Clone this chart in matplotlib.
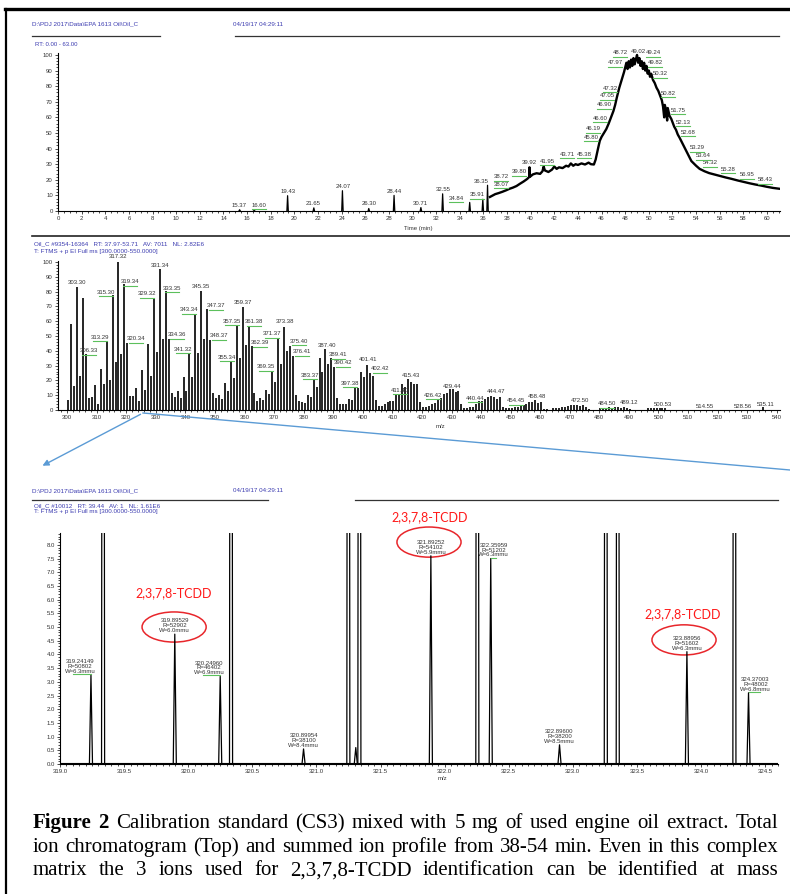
import matplotlib
matplotlib.use("Agg")
import matplotlib.pyplot as plt
from matplotlib.lines import Line2D
from matplotlib.patches import Ellipse, FancyArrowPatch
from matplotlib.ticker import MultipleLocator, FormatStrFormatter
from matplotlib.transforms import IdentityTransform

W, H = 790, 894
plt.rcParams['font.family'] = ['Liberation Sans', 'DejaVu Sans']

# ---------------- data: total ion chromatogram (top) ----------------
tic_time = [36.55, 36.8, 37.0, 37.3, 37.6, 37.9, 38.2, 38.5, 38.8, 39.1, 39.4, 39.7,
            39.88, 39.9, 39.95, 40.2, 40.5, 40.8, 41.0, 41.1, 41.2, 41.5, 41.8, 42.0,
            42.2, 42.4, 42.7, 43.0, 43.2, 43.4, 43.6, 43.8, 44.0, 44.3, 44.6, 44.9,
            45.1, 45.35, 45.5, 45.7, 45.85, 46.0, 46.2, 46.4, 46.6, 46.8, 47.0, 47.15,
            47.3, 47.5, 47.7, 47.9, 48.0, 48.1, 48.2, 48.3, 48.4, 48.5, 48.6, 48.7,
            48.8, 48.9, 49.0, 49.1, 49.2, 49.3, 49.4, 49.5, 49.6, 49.7, 49.8, 49.9,
            50.0, 50.1, 50.2, 50.35, 50.5, 50.65, 50.8, 50.95, 51.1, 51.2, 51.3, 51.35,
            51.45, 51.55, 51.6, 51.75, 51.9, 52.0, 52.15, 52.3, 52.45, 52.6, 52.8, 53.0,
            53.2, 53.4, 53.6, 53.8, 54.0, 54.3, 54.7, 55.1, 55.5, 56.0, 56.5, 57.0,
            57.5, 58.0, 58.5, 59.0, 59.5, 60.0, 60.5, 61.0, 61.5, 62.0, 63.0]
tic_int = [9.0, 10.0, 10.8, 11.5, 12.3, 13.2, 14.2, 15.0, 16.0, 17.5, 18.9, 20.5,
           21.8, 28.0, 22.0, 23.5, 24.2, 23.8, 25.5, 28.5, 26.0, 25.0, 26.5, 28.5,
           27.0, 28.0, 27.5, 29.0, 28.5, 30.5, 29.0, 30.0, 29.5, 30.5, 29.8, 31.0,
           30.0, 29.8, 33.0, 40.0, 45.0, 47.5, 50.0, 52.5, 56.0, 60.0, 64.0, 68.0,
           73.0, 79.0, 84.0, 89.0, 92.0, 95.0, 91.0, 96.0, 92.0, 97.0, 93.0, 98.0,
           94.0, 97.0, 100.0, 95.0, 98.0, 93.0, 96.0, 91.0, 95.0, 90.0, 93.0, 88.0,
           90.0, 86.0, 88.0, 84.0, 82.0, 79.0, 77.0, 74.0, 71.0, 67.0, 60.0, 68.0,
           65.0, 58.0, 66.0, 61.0, 59.0, 57.0, 54.0, 52.0, 49.0, 47.0, 44.0, 41.0,
           38.0, 35.0, 32.0, 30.5, 29.0, 27.0, 25.5, 24.3, 23.5, 22.5, 21.5, 20.6,
           19.6, 18.7, 17.8, 17.0, 16.3, 15.5, 14.8, 14.3, 13.8, 13.5, 13.0]
spike_rt = [15.37, 16.60, 19.43, 21.65, 24.07, 26.30, 28.44, 30.71, 32.55, 34.84, 35.95, 36.35]
spike_int = [0.8, 0.4, 9.8, 2.0, 13.0, 1.6, 10.0, 2.2, 11.0, 5.5, 7.5, 16.5]

# label text, x (min), y (%), green leader
tic_labels = [
    ("15.37", 15.32, 3.8, False), ("16.60", 17.01, 3.8, True), ("19.43", 19.46, 12.2, False),
    ("21.65", 21.58, 4.5, False), ("24.07", 24.12, 15.4, False), ("26.30", 26.32, 4.5, False),
    ("28.44", 28.43, 12.8, False), ("30.71", 30.63, 5.1, False), ("32.55", 32.58, 13.5, False),
    ("34.84", 33.68, 8.3, True), ("35.91", 35.46, 10.3, True), ("36.35", 35.80, 19.2, False),
    ("38.07", 37.49, 17.3, True), ("38.72", 37.49, 21.8, True), ("39.80", 39.01, 25.0, True),
    ("39.92", 39.86, 30.8, False), ("41.95", 41.38, 32.0, True), ("43.71", 43.07, 36.5, True),
    ("45.38", 44.51, 36.5, True), ("45.80", 45.10, 47.4, True), ("46.19", 45.27, 52.6, True),
    ("46.60", 45.87, 59.6, True), ("46.90", 46.20, 68.0, True), ("47.05", 46.46, 73.7, True),
    ("47.32", 46.71, 78.8, True), ("47.97", 47.14, 94.9, True), ("48.72", 47.56, 101.3, True),
    ("49.02", 49.08, 101.9, False), ("49.24", 50.35, 101.3, True), ("49.82", 50.52, 94.9, True),
    ("50.32", 50.94, 87.8, True), ("50.82", 51.62, 75.6, True), ("51.75", 52.47, 64.7, True),
    ("52.13", 52.89, 57.0, True), ("52.68", 53.31, 50.6, True), ("53.29", 54.07, 40.4, True),
    ("53.64", 54.58, 35.3, True), ("54.32", 55.17, 30.8, True), ("55.28", 56.70, 26.9, True),
    ("56.95", 58.30, 23.1, True), ("58.43", 59.83, 19.9, True),
]

# ---------------- data: summed spectrum (middle) ----------------
ms_mass = list(range(300, 491)) + [496, 497, 498, 499, 500, 501, 502, 535]
ms_int = [
    6.8, 58, 16, 83, 23, 75.6, 37.7, 8.4, 8.8, 16.7,            # 300-309
    4, 27.5, 17.4, 46.7, 20, 77.6, 32.5, 100, 38, 85,           # 310-319
    45.6, 9.5, 9.3, 14.7, 6, 27, 13.8, 44.7, 23, 75.6,          # 320-329
    39.5, 95.5, 47.9, 80.6, 48.3, 11.3, 9, 12.9, 8.4, 22.6,     # 330-339
    13, 38.4, 22.6, 64.8, 38.8, 80.6, 48.3, 68.2, 47.6, 11.7,   # 340-349
    7.9, 10.4, 7.4, 18, 12.6, 33, 21.4, 57.6, 34.8, 69.3,       # 350-359
    44, 56.4, 43.3, 11.7, 6.3, 8.1, 6.8, 13.5, 10.8, 26,        # 360-369
    19, 48.5, 31, 56, 40, 43, 36.6, 10, 5.9, 5.4,               # 370-379
    5, 10.4, 8.8, 20.5, 15.6, 35, 25.7, 41.5, 31, 34.8,         # 380-389
    29, 8, 4, 3.8, 4.3, 7.4, 7, 15.8, 14.7, 26,                 # 390-399
    22.6, 30.5, 25.3, 23, 6.8, 2.7, 2.7, 3.8, 5.4, 6,           # 400-409
    6, 10.6, 10.6, 17.3, 15.8, 21.2, 19, 17.3, 17.3, 5.4,       # 410-419
    2.3, 2.3, 3, 4.3, 4.5, 7.7, 8.3, 11, 11.3, 14,              # 420-429
    14, 12, 12.6, 3.8, 1.6, 1.6, 2.3, 2.3, 4, 6,                # 430-439
    5.8, 7.7, 9, 9.5, 9, 7.7, 8.6, 2.3, 1.1, 1.4,               # 440-449
    1.6, 2, 2.3, 2.7, 3.6, 4.3, 5.4, 5.4, 6.8, 4.5,             # 450-459
    5.4, 0.9, 0.4, 0.3, 1.3, 1.3, 1.6, 1.8, 2.3, 2.5,           # 460-469
    3.4, 3.2, 3.6, 3.0, 3.6, 1.8, 0.6, 0.3, 0.3, 0.3,           # 470-479
    1.1, 1.4, 1.6, 1.8, 1.6, 1.8, 2.0, 1.6, 2.3, 1.4,           # 480-489
    0.5,                                                        # 490
    1.1, 1.1, 1.3, 1.1, 1.3, 1.1, 1.1, 1.8,                     # 496-502, 535
]
ms_labels = [
    ("303.30", 303.30, 85.8, False), ("306.33", 307.36, 39.9, True), ("313.29", 311.08, 49.3, True),
    ("315.30", 313.11, 79.7, True), ("317.32", 317.17, 103.4, False), ("319.34", 321.23, 86.5, True),
    ("320.34", 323.26, 48.0, True), ("329.32", 326.98, 78.4, True), ("331.34", 331.38, 97.3, False),
    ("333.35", 335.44, 82.4, True), ("334.36", 337.13, 50.7, True), ("341.32", 339.16, 41.2, True),
    ("343.34", 341.19, 67.6, True), ("345.35", 345.25, 83.1, False), ("347.37", 350.32, 70.3, True),
    ("348.37", 351.34, 50.0, True), ("355.34", 354.04, 35.8, True), ("357.35", 355.74, 60.1, True),
    ("359.37", 359.46, 72.3, False), ("361.38", 363.18, 59.5, True), ("362.39", 365.21, 45.3, True),
    ("369.35", 367.24, 29.1, True), ("371.37", 369.27, 51.4, True), ("373.38", 373.66, 59.5, False),
    ("375.40", 378.40, 46.6, True), ("376.41", 379.42, 39.2, True), ("383.37", 382.12, 23.6, True),
    ("387.40", 387.87, 43.9, False), ("389.41", 391.60, 37.2, True), ("390.42", 393.29, 31.8, True),
    ("397.38", 395.66, 18.2, True), ("401.41", 401.74, 33.8, False), ("402.42", 405.80, 27.7, True),
    ("411.40", 412.57, 13.5, True), ("415.43", 416.29, 23.6, False), ("426.42", 423.73, 10.1, True),
    ("429.44", 430.16, 16.2, False), ("440.44", 437.94, 8.1, True), ("444.47", 445.05, 12.2, False),
    ("454.45", 451.81, 6.1, True), ("458.48", 458.92, 8.8, False), ("472.50", 473.46, 6.1, False),
    ("484.50", 482.59, 4.1, True), ("489.12", 490.04, 5.4, False), ("500.53", 501.54, 3.4, False),
    ("514.55", 515.75, 2.7, False), ("528.56", 528.60, 2.7, False), ("535.11", 536.39, 3.4, False),
]

# ---------------- data: single scan zoom (bottom) ----------------
scan_mz = [319.24149, 319.336, 319.89529, 320.24960, 320.334, 320.89954, 321.249, 321.307,
           321.335, 321.89252, 322.255, 322.35959, 322.89600, 323.257, 323.35, 323.88956,
           324.26, 324.37003]
scan_int = [3.25, 60, 4.74, 3.2, 60, 0.55, 60, 0.6, 60, 7.6, 60, 7.5, 0.7, 60, 60, 4.1, 60, 2.6]
lab_mz = [319.24149, 319.89529, 320.24960, 320.89954, 321.89252, 322.35959, 322.89600,
          323.88956, 324.37003]
lab_int = [3.25, 4.74, 3.2, 0.55, 7.6, 7.5, 0.7, 4.1, 2.6]
lab_res = [50802, 52902, 46402, 38100, 54102, 51202, 38200, 51602, 48002]
lab_width = ["6.3", "6.0", "6.9", "8.4", "5.9", "6.3", "8.5", "6.3", "6.8"]
lab_dx = [-11, 0, -11, 0, 0, 3, 0, 0, 7]
lab_leader = [True, False, True, False, False, True, False, False, True]
# 2,3,7,8-TCDD call-outs: ellipse centre and title position (m/z, intensity)
tcdd_ell = [(319.89, 5.0), (321.878, 8.1), (323.867, 4.53)]
tcdd_txt = [(319.889, 6.24), (321.886, 9.01), (323.86, 5.47)]

caption = [
    "Figure 2 Calibration standard (CS3) mixed with 5 mg of used engine oil extract. Total",
    "ion chromatogram (Top) and summed ion profile from 38-54 min.  Even in this complex",
    "matrix the 3 ions used for 2,3,7,8-TCDD identification can be identified at mass",
]

BLUE = "#3b3bb0"
GREEN = "#5cc05c"
LBL = dict(fontsize=4.3, color="#333333")

fig = plt.figure(figsize=(W / 100, H / 100), dpi=100)


def px_rect(x0, y0, x1, y1):
    return [x0 / W, 1 - y1 / H, (x1 - x0) / W, (y1 - y0) / H]


def fig_line(x0, y0, x1, y1, **kw):
    fig.add_artist(Line2D([x0 / W, x1 / W], [1 - y0 / H, 1 - y1 / H],
                          transform=fig.transFigure, **kw))


def fig_text(x, y, s, **kw):
    fig.text(x / W, 1 - y / H, s, **kw)


def underline(ax, x, y, half=7, dy=4):
    px, py = ax.transData.transform((x, y))
    fig.add_artist(Line2D([px - half, px + half], [py - dy, py - dy], color=GREEN,
                          lw=0.8, transform=IdentityTransform()))


def style_axes(ax):
    for side in ("top", "right"):
        ax.spines[side].set_visible(False)
    for side in ("left", "bottom"):
        ax.spines[side].set_linewidth(0.8)
    ax.tick_params(which="both", direction="out", width=0.5, labelsize=4.3,
                   labelcolor="#333333", pad=1.2)
    ax.tick_params(which="major", length=2.5)
    ax.tick_params(which="minor", length=1.5)
    ax.patch.set_alpha(0)


# frame of the page
fig_line(5, 9, 790, 9, color="black", lw=2.4)
fig_line(6, 9, 6, 894, color="black", lw=1.6)

# ---------- top panel ----------
fig_text(32, 24, r"D:\PDJ 2017\Data\EPA 1613 Oil\Oil_C", fontsize=4.5, color=BLUE, va="center")
fig_text(233, 24, "04/19/17 04:29:11", fontsize=4.5, color=BLUE, va="center")
fig_line(32, 36, 160, 36, color="#333333", lw=0.9)
fig_line(235, 36, 779, 36, color="#333333", lw=0.9)
fig_text(35, 44, "RT: 0.00 - 63.00", fontsize=4.3, color=BLUE, va="center")

ax1 = fig.add_axes(px_rect(58, 53.4, 780, 211))
ax1.set_xlim(0, 61.1)
ax1.set_ylim(0, 101)
style_axes(ax1)
ax1.xaxis.set_major_locator(MultipleLocator(2))
ax1.xaxis.set_minor_locator(MultipleLocator(0.5))
ax1.yaxis.set_major_locator(MultipleLocator(10))
ax1.yaxis.set_minor_locator(MultipleLocator(2))
ax1.plot(tic_time, tic_int, color="black", lw=1.7)
for rt, h in zip(spike_rt, spike_int):
    ax1.plot([rt - 0.06, rt, rt + 0.06], [0, h, 0], color="black", lw=0.9)
for txt, x, y, lead in tic_labels:
    ax1.text(x, y, txt, ha="center", va="center", **LBL)
    if lead:
        underline(ax1, x, y)
fig_text(418, 228, "Time (min)", fontsize=4.3, color="#333333", ha="center", va="center")

# ---------- middle panel ----------
fig_line(32, 236, 790, 236, color="#222222", lw=1.2)
fig_text(34, 244, "Oil_C #9354-16364   RT: 37.97-53.71   AV: 7011   NL: 2.82E6",
         fontsize=4.5, color=BLUE, va="center")
fig_text(34, 251, "T: FTMS + p EI Full ms [300.0000-550.0000]", fontsize=4.5, color=BLUE, va="center")

ax2 = fig.add_axes(px_rect(58, 260.5, 780, 410))
ax2.set_xlim(296.9, 541.1)
ax2.set_ylim(0, 101)
style_axes(ax2)
ax2.xaxis.set_major_locator(MultipleLocator(10))
ax2.xaxis.set_minor_locator(MultipleLocator(2))
ax2.yaxis.set_major_locator(MultipleLocator(10))
ax2.yaxis.set_minor_locator(MultipleLocator(2))
ax2.vlines([m + 0.35 for m in ms_mass], 0, ms_int, color="black", lw=1.2)
for txt, x, y, lead in ms_labels:
    ax2.text(x, y, txt, ha="center", va="center", **LBL)
    if lead:
        underline(ax2, x, y)
fig_text(440, 427, "m/z", fontsize=4.3, color="#333333", ha="center", va="center")

# blue zoom lines
fig.add_artist(FancyArrowPatch((143 / W, 1 - 413 / H), (40 / W, 1 - 467 / H),
                               transform=fig.transFigure, arrowstyle="-|>",
                               mutation_scale=9, color="#5b9bd5", lw=1.0))
fig_line(143, 413, 790, 470, color="#5b9bd5", lw=1.0)

# ---------- bottom panel ----------
fig_text(32, 491, r"D:\PDJ 2017\Data\EPA 1613 Oil\Oil_C", fontsize=4.5, color=BLUE, va="center")
fig_text(233, 491, "04/19/17 04:29:11", fontsize=4.5, color=BLUE, va="center")
fig_line(32, 500, 268, 500, color="#333333", lw=0.9)
fig_line(355, 500, 778, 500, color="#333333", lw=0.9)
fig_text(34, 506, "Oil_C #10012   RT: 39.44   AV: 1   NL: 1.61E6", fontsize=4.5, color=BLUE, va="center")
fig_text(34, 512, "T: FTMS + p EI Full ms [300.0000-550.0000]", fontsize=4.5, color=BLUE, va="center")

ax3 = fig.add_axes(px_rect(60, 532.5, 778, 764))
ax3.set_xlim(319.0, 324.6)
ax3.set_ylim(0, 8.45)
style_axes(ax3)
ax3.xaxis.set_major_locator(MultipleLocator(0.5))
ax3.xaxis.set_minor_locator(MultipleLocator(0.05))
ax3.yaxis.set_major_locator(MultipleLocator(0.5))
ax3.yaxis.set_minor_locator(MultipleLocator(0.1))
ax3.xaxis.set_major_formatter(FormatStrFormatter("%.1f"))
ax3.yaxis.set_major_formatter(FormatStrFormatter("%.1f"))
ax3.plot([319.0, 324.6], [0.02, 0.02], color="black", lw=0.8)
for mz, h in zip(scan_mz, scan_int):
    ax3.plot([mz - 0.012, mz, mz + 0.012], [0, h, 0], color="black", lw=0.9)
for mz, h, r, w, dx, lead in zip(lab_mz, lab_int, lab_res, lab_width, lab_dx, lab_leader):
    ax3.annotate(f"{mz:.5f}\nR={r}\nW={w}mmu", xy=(mz, h), xytext=(dx * 0.72, 0.8),
                 textcoords="offset points", ha="center", va="bottom",
                 linespacing=0.95, **LBL)
    if lead:
        px, py = ax3.transData.transform((mz, h))
        fig.add_artist(Line2D([px, px + 1.6 * dx], [py + 1, py + 1], color=GREEN, lw=0.8,
                              transform=IdentityTransform()))
for (ex, ey), (tx, ty) in zip(tcdd_ell, tcdd_txt):
    ax3.add_patch(Ellipse((ex, ey), 0.5, 1.1, fill=False, ec="#e8262b", lw=1.1, clip_on=False))
    ax3.text(tx, ty, "2,3,7,8-TCDD", fontsize=9, color="#ff1a1a",
             family=["Lato", "DejaVu Sans"], ha="center", va="center")
fig_text(442, 778, "m/z", fontsize=4.3, color="#333333", ha="center", va="center")

# ---------- caption (justified) ----------
renderer = fig.canvas.get_renderer()
x_left, x_right = 33, 778
for li, line in enumerate(caption):
    words = line.split()
    y = 828 + li * 23.6
    objs = []
    for wi, word in enumerate(words):
        bold = li == 0 and wi < 2
        objs.append(fig.text(0, 1 - y / H, word, fontsize=15.0, va="baseline",
                             family=["Liberation Serif", "DejaVu Serif"],
                             weight="bold" if bold else "normal", color="black"))
    widths = [t.get_window_extent(renderer).width for t in objs]
    gap = (x_right - x_left - sum(widths)) / (len(objs) - 1)
    x = x_left
    for t, w in zip(objs, widths):
        t.set_x(x / W)
        x += w + gap

fig.savefig("out.png", dpi=100)
